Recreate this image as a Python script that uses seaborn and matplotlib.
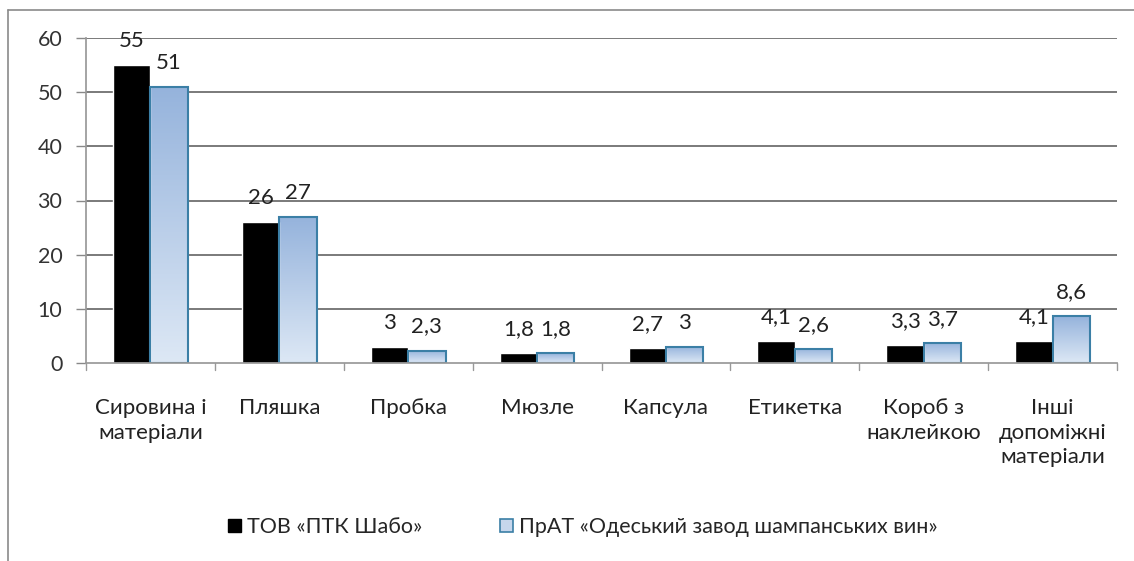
import numpy as np
import pandas as pd
import matplotlib
matplotlib.use("Agg")
import matplotlib.pyplot as plt
import seaborn as sns
from matplotlib.patches import Patch
from matplotlib.lines import Line2D
from matplotlib.colors import LinearSegmentedColormap

categories = ["Сировина і\nматеріали", "Пляшка", "Пробка", "Мюзле", "Капсула",
              "Етикетка", "Короб з\nнаклейкою", "Інші\nдопоміжні\nматеріали"]
series_names = ["ТОВ «ПТК Шабо»", "ПрАТ «Одеський завод шампанських вин»"]
shabo = [55, 26, 3, 1.8, 2.7, 4.1, 3.3, 4.1]
odesa = [51, 27, 2.3, 1.8, 3, 2.6, 3.7, 8.6]
yticks = [0, 10, 20, 30, 40, 50, 60]

df = pd.DataFrame({
    "cat": categories * 2,
    "val": shabo + odesa,
    "series": [series_names[0]] * len(categories) + [series_names[1]] * len(categories),
})

sns.set_theme(style="white")
plt.rcParams["font.family"] = ["Lato", "DejaVu Sans"]

fig = plt.figure(figsize=(11.34, 5.61), dpi=100)
ax = fig.add_axes([86 / 1134, 1 - 363 / 561, (1117 - 86) / 1134, (363 - 38) / 561])

edge_blue = "#3b7fa6"
sns.barplot(data=df, x="cat", y="val", hue="series", order=categories,
            hue_order=series_names, palette=["black", "#c6d6ec"],
            width=0.58, ax=ax, legend=False, saturation=1)

ax.set_ylim(0, 60)
ax.set_xlim(-0.5, len(categories) - 0.5)
ax.set_yticks(yticks)
ax.set_yticklabels([str(t) for t in yticks], fontsize=15.5, color="#333333")
ax.set_xticks(range(len(categories)))
ax.set_xticklabels(categories, fontsize=16, color="#222222", linespacing=1.3)
ax.tick_params(axis="x", length=0, pad=25)
ax.tick_params(axis="y", length=7, width=1, color="#888888", pad=10, left=True)
ax.set_xlabel("")
ax.set_ylabel("")

for t in yticks[1:]:
    ax.axhline(t, color="#7a7a7a", lw=1.4, zorder=0.5)
for sp in ["top", "right"]:
    ax.spines[sp].set_visible(False)
ax.spines["left"].set_color("#999999")
ax.spines["bottom"].set_color("#999999")
for b in np.arange(-0.5, len(categories) + 0.5, 1.0):
    ax.plot([b, b], [0, -1.3], color="#999999", lw=1, clip_on=False)

cmap = LinearSegmentedColormap.from_list("g", ["#dde8f5", "#95b3dc"])
grad = np.linspace(0, 1, 256).reshape(-1, 1)
n = len(categories)
patches = ax.patches
for i, p in enumerate(patches[:2 * n]):
    x = p.get_x(); w = p.get_width(); h = p.get_height()
    if i >= n:
        p.set_edgecolor(edge_blue)
        p.set_linewidth(1.5)
        p.set_facecolor("none")
        im = ax.imshow(grad, extent=[x, x + w, 0, h], origin="lower", cmap=cmap,
                       aspect="auto", zorder=p.get_zorder() - 0.01)
        im.set_clip_path(p)
        vals = odesa
    else:
        vals = shabo
    v = vals[i % n]
    lab = ("%g" % v).replace(".", ",")
    ax.text(x + w / 2, h + 2.6, lab, ha="center", va="bottom", fontsize=16, color="#222222")

ax.set_xlim(-0.5, len(categories) - 0.5)
ax.set_ylim(0, 60)

handles = [Patch(facecolor="black", edgecolor="black", label=series_names[0]),
           Patch(facecolor="#c6d6ec", edgecolor=edge_blue, linewidth=1.2, label=series_names[1])]
fig.legend(handles=handles, loc="center", bbox_to_anchor=(583 / 1134, 1 - 527 / 561),
           ncol=2, frameon=False, fontsize=15.5, handlelength=0.6, handleheight=0.6,
           handletextpad=0.3, columnspacing=3.6)

fig.add_artist(Line2D([8 / 1134, 8 / 1134], [0, 1 - 10 / 561], color="#8a8a8a", lw=1.2,
                      transform=fig.transFigure))
fig.add_artist(Line2D([8 / 1134, 1.0], [1 - 10 / 561, 1 - 10 / 561], color="#8a8a8a", lw=1.2,
                      transform=fig.transFigure))

fig.savefig("out.png", dpi=100)
